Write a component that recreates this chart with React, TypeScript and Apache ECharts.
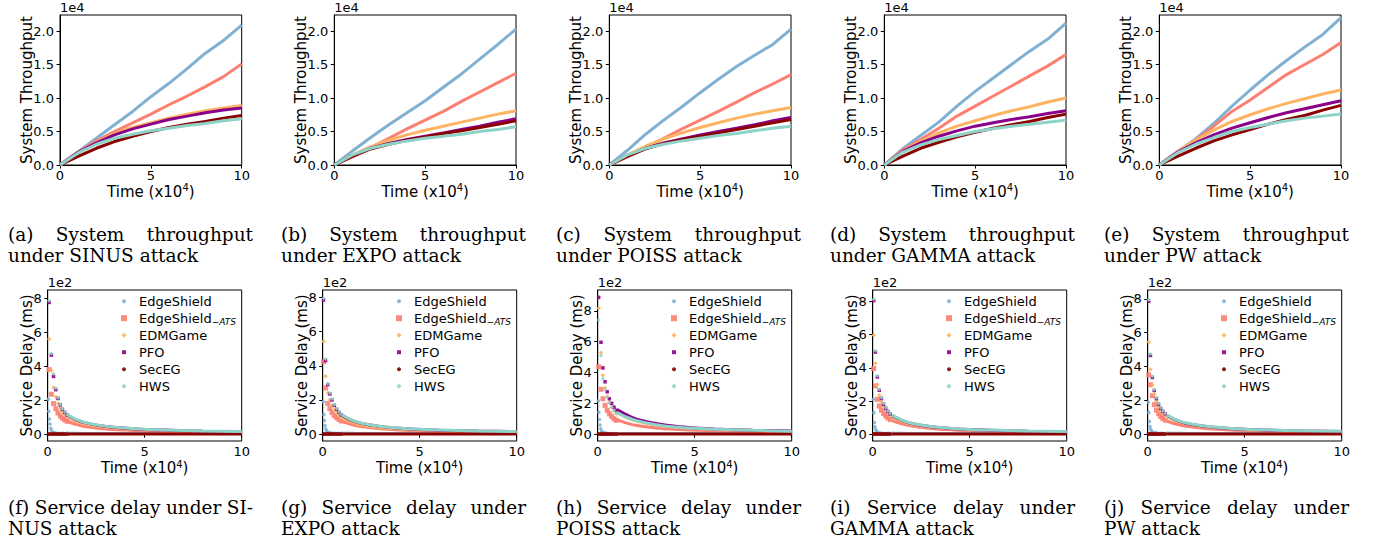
import { useEffect, useRef } from 'react';
import * as echarts from 'echarts';

// ---------- data ----------
const methods = ['EdgeShield', 'EdgeShield-ATS', 'EDMGame', 'PFO', 'SecEG', 'HWS'];
const colors = ['#80b1d3', '#fb8072', '#fdb462', '#8b008b', '#8b0000', '#8dd3c7'];
const symbols = ['circle', 'rect', 'diamond', 'rect', 'circle', 'diamond'];
const symbolSizes = [3.5, 5, 4.5, 3.5, 4, 4];
const legendSizes = [4, 6, 5, 4, 4, 5];
const attacks = ['SINUS', 'EXPO', 'POISS', 'GAMMA', 'PW'];

const timeX = [0, 1, 2, 3, 4, 5, 6, 7, 8, 9, 10];
const timeTicks = [0, 5, 10];
const throughputTicks = [0, 0.5, 1, 1.5, 2];
const delayTicks = [0, 2, 4, 6, 8];

// throughput (x1e4), order: EdgeShield, ATS, EDMGame, PFO, SecEG, HWS
const thrSINUS = [
  [0, 0.2, 0.4, 0.6, 0.8, 1.02, 1.22, 1.44, 1.67, 1.86, 2.09],
  [0, 0.19, 0.36, 0.5, 0.63, 0.76, 0.9, 1.03, 1.17, 1.32, 1.51],
  [0, 0.19, 0.34, 0.47, 0.56, 0.63, 0.7, 0.76, 0.81, 0.85, 0.89],
  [0, 0.19, 0.33, 0.45, 0.54, 0.61, 0.68, 0.73, 0.78, 0.82, 0.85],
  [0, 0.13, 0.25, 0.35, 0.43, 0.5, 0.56, 0.61, 0.65, 0.7, 0.74],
  [0, 0.18, 0.31, 0.4, 0.46, 0.51, 0.55, 0.59, 0.62, 0.66, 0.69],
];
const thrEXPO = [
  [0, 0.21, 0.41, 0.6, 0.78, 0.96, 1.16, 1.36, 1.58, 1.8, 2.03],
  [0, 0.12, 0.26, 0.4, 0.54, 0.67, 0.8, 0.95, 1.09, 1.23, 1.37],
  [0, 0.15, 0.27, 0.37, 0.45, 0.52, 0.58, 0.64, 0.7, 0.76, 0.81],
  [0, 0.14, 0.25, 0.32, 0.38, 0.43, 0.48, 0.53, 0.58, 0.64, 0.69],
  [0, 0.13, 0.24, 0.31, 0.37, 0.42, 0.47, 0.51, 0.56, 0.61, 0.66],
  [0, 0.15, 0.25, 0.31, 0.36, 0.4, 0.43, 0.46, 0.5, 0.53, 0.57],
];
const thrPOISS = [
  [0, 0.22, 0.46, 0.67, 0.87, 1.08, 1.28, 1.47, 1.64, 1.8, 2.03],
  [0, 0.12, 0.26, 0.4, 0.54, 0.67, 0.8, 0.94, 1.08, 1.21, 1.35],
  [0, 0.15, 0.28, 0.39, 0.48, 0.56, 0.63, 0.7, 0.76, 0.81, 0.86],
  [0, 0.14, 0.25, 0.33, 0.39, 0.45, 0.5, 0.55, 0.6, 0.66, 0.71],
  [0, 0.13, 0.24, 0.32, 0.38, 0.43, 0.48, 0.53, 0.58, 0.63, 0.68],
  [0, 0.15, 0.25, 0.31, 0.36, 0.4, 0.44, 0.47, 0.51, 0.55, 0.58],
];
const thrGAMMA = [
  [0, 0.24, 0.44, 0.64, 0.88, 1.1, 1.3, 1.5, 1.7, 1.88, 2.12],
  [0, 0.22, 0.38, 0.55, 0.73, 0.88, 1.03, 1.18, 1.33, 1.48, 1.65],
  [0, 0.2, 0.35, 0.48, 0.58, 0.66, 0.74, 0.81, 0.87, 0.94, 1.0],
  [0, 0.2, 0.33, 0.43, 0.51, 0.58, 0.63, 0.68, 0.72, 0.77, 0.81],
  [0, 0.13, 0.25, 0.34, 0.42, 0.49, 0.55, 0.6, 0.65, 0.71, 0.76],
  [0, 0.19, 0.3, 0.38, 0.44, 0.5, 0.54, 0.58, 0.61, 0.64, 0.67],
];
const thrPW = [
  [0, 0.2, 0.39, 0.62, 0.88, 1.12, 1.35, 1.56, 1.76, 1.95, 2.2],
  [0, 0.2, 0.37, 0.58, 0.8, 0.97, 1.16, 1.35, 1.5, 1.65, 1.83],
  [0, 0.2, 0.37, 0.52, 0.65, 0.75, 0.84, 0.92, 0.99, 1.06, 1.12],
  [0, 0.19, 0.33, 0.45, 0.55, 0.63, 0.71, 0.78, 0.84, 0.9, 0.96],
  [0, 0.13, 0.25, 0.36, 0.45, 0.53, 0.61, 0.68, 0.74, 0.82, 0.89],
  [0, 0.18, 0.31, 0.41, 0.5, 0.56, 0.61, 0.66, 0.7, 0.73, 0.76],
];
const thrAll = [thrSINUS, thrEXPO, thrPOISS, thrGAMMA, thrPW];

// service delay (x1e2 ms)
const blueHeadX = [0.03, 0.06, 0.09, 0.12, 0.16, 0.2, 0.25, 0.32, 0.4, 0.5, 0.65, 0.8, 1.0];
const tailX = [1.0, 1.5, 2, 3, 4, 5, 6, 8, 10];
const headXSINUS = [0.07, 0.19, 0.3, 0.42, 0.53, 0.65, 0.76, 0.88, 1.0];
const headXEXPO = [0.04, 0.15, 0.26, 0.37, 0.48, 0.6, 0.72, 0.84, 0.96];
const headXPOISS = [0.05, 0.17, 0.27, 0.38, 0.49, 0.6, 0.72, 0.84, 0.96];
const headXGAMMA = [0.05, 0.14, 0.24, 0.34, 0.45, 0.56, 0.67, 0.78, 0.9];
const headXPW = [0.05, 0.14, 0.24, 0.34, 0.45, 0.56, 0.67, 0.78, 0.9];
const headXAll = [headXSINUS, headXEXPO, headXPOISS, headXGAMMA, headXPW];

const headSINUS = [
  [2.05, 1.35, 0.9, 0.6, 0.35, 0.2, 0.13, 0.09, 0.07, 0.06, 0.05, 0.05, 0.05],
  [3.8, 2.35, 1.8, 1.5, 1.25, 1.07, 0.94, 0.84, 0.76],
  [5.6, 3.75, 2.75, 2.2, 1.8, 1.52, 1.32, 1.16, 1.03],
  [7.75, 4.65, 3.4, 2.62, 2.1, 1.72, 1.46, 1.28, 1.13],
  [0.01, 0.01, 0.01, 0.01, 0.01, 0.01, 0.01, 0.01, 0.01],
  [7.85, 4.75, 3.55, 2.7, 2.15, 1.75, 1.48, 1.3, 1.15],
];
const tailSINUS = [
  [0.05, 0.05, 0.04, 0.04, 0.04, 0.04, 0.04, 0.04, 0.04],
  [0.76, 0.56, 0.44, 0.31, 0.24, 0.19, 0.16, 0.13, 0.11],
  [1.03, 0.76, 0.59, 0.41, 0.32, 0.26, 0.22, 0.17, 0.14],
  [1.13, 0.83, 0.65, 0.45, 0.35, 0.28, 0.24, 0.18, 0.15],
  [0.01, 0.01, 0.01, 0.01, 0.01, 0.01, 0.01, 0.01, 0.01],
  [1.15, 0.85, 0.66, 0.46, 0.36, 0.29, 0.25, 0.19, 0.16],
];
const headEXPO = [
  [1.9, 1.15, 0.8, 0.5, 0.3, 0.18, 0.12, 0.09, 0.07, 0.06, 0.05, 0.05, 0.05],
  [4.23, 2.7, 1.8, 1.5, 1.26, 1.09, 0.96, 0.86, 0.77],
  [5.42, 3.38, 2.4, 2.0, 1.68, 1.42, 1.24, 1.09, 0.98],
  [7.85, 4.3, 2.9, 2.35, 2.0, 1.68, 1.45, 1.27, 1.13],
  [0.01, 0.01, 0.01, 0.01, 0.01, 0.01, 0.01, 0.01, 0.01],
  [7.95, 4.4, 2.95, 2.4, 2.05, 1.72, 1.48, 1.3, 1.16],
];
const tailEXPO = [
  [0.05, 0.05, 0.04, 0.04, 0.04, 0.04, 0.04, 0.04, 0.04],
  [0.75, 0.56, 0.44, 0.31, 0.24, 0.19, 0.16, 0.13, 0.11],
  [0.95, 0.7, 0.54, 0.38, 0.3, 0.24, 0.2, 0.16, 0.13],
  [1.1, 0.8, 0.62, 0.44, 0.34, 0.27, 0.23, 0.18, 0.15],
  [0.01, 0.01, 0.01, 0.01, 0.01, 0.01, 0.01, 0.01, 0.01],
  [1.12, 0.82, 0.64, 0.45, 0.35, 0.28, 0.24, 0.18, 0.15],
];
const headPOISS = [
  [2.17, 1.43, 0.95, 0.6, 0.35, 0.2, 0.13, 0.09, 0.07, 0.06, 0.05, 0.05, 0.05],
  [4.37, 2.91, 2.3, 1.87, 1.55, 1.32, 1.15, 1.0, 0.9],
  [8.17, 5.28, 3.83, 3.0, 2.45, 2.05, 1.75, 1.52, 1.35],
  [8.87, 5.96, 4.3, 3.4, 2.75, 2.3, 2.0, 1.75, 1.55],
  [0.01, 0.01, 0.01, 0.01, 0.01, 0.01, 0.01, 0.01, 0.01],
  [7.4, 5.09, 3.6, 2.9, 2.4, 2.02, 1.75, 1.53, 1.36],
];
const tailPOISS = [
  [0.05, 0.05, 0.04, 0.04, 0.04, 0.04, 0.04, 0.04, 0.04],
  [0.93, 0.72, 0.57, 0.41, 0.32, 0.26, 0.22, 0.17, 0.14],
  [1.4, 1.08, 0.86, 0.6, 0.46, 0.37, 0.31, 0.24, 0.19],
  [1.6, 1.25, 0.98, 0.7, 0.52, 0.41, 0.34, 0.26, 0.21],
  [0.01, 0.01, 0.01, 0.01, 0.01, 0.01, 0.01, 0.01, 0.01],
  [1.41, 1.1, 0.88, 0.62, 0.47, 0.38, 0.32, 0.25, 0.2],
];
const headGAMMA = [
  [2.1, 1.3, 0.7, 0.45, 0.28, 0.17, 0.11, 0.08, 0.07, 0.06, 0.05, 0.05, 0.05],
  [3.96, 2.91, 2.1, 1.7, 1.45, 1.25, 1.1, 0.98, 0.88],
  [5.97, 4.28, 3.0, 2.35, 1.95, 1.65, 1.42, 1.25, 1.12],
  [8.05, 4.95, 3.45, 2.65, 2.15, 1.8, 1.56, 1.37, 1.22],
  [0.01, 0.01, 0.01, 0.01, 0.01, 0.01, 0.01, 0.01, 0.01],
  [8.14, 5.03, 3.52, 2.71, 2.2, 1.85, 1.6, 1.4, 1.25],
];
const tailGAMMA = [
  [0.05, 0.05, 0.04, 0.04, 0.04, 0.04, 0.04, 0.04, 0.04],
  [0.82, 0.62, 0.49, 0.35, 0.27, 0.22, 0.19, 0.15, 0.12],
  [1.03, 0.77, 0.6, 0.42, 0.33, 0.27, 0.23, 0.18, 0.15],
  [1.12, 0.83, 0.64, 0.45, 0.35, 0.28, 0.24, 0.18, 0.15],
  [0.01, 0.01, 0.01, 0.01, 0.01, 0.01, 0.01, 0.01, 0.01],
  [1.15, 0.85, 0.66, 0.46, 0.36, 0.29, 0.25, 0.19, 0.16],
];
const headPW = [
  [1.88, 1.28, 0.75, 0.45, 0.28, 0.17, 0.11, 0.08, 0.07, 0.06, 0.05, 0.05, 0.05],
  [3.5, 2.92, 2.27, 1.74, 1.42, 1.2, 1.04, 0.92, 0.82],
  [5.45, 3.82, 2.92, 2.35, 1.95, 1.65, 1.43, 1.26, 1.12],
  [7.85, 4.65, 3.35, 2.58, 2.1, 1.76, 1.52, 1.34, 1.2],
  [0.01, 0.01, 0.01, 0.01, 0.01, 0.01, 0.01, 0.01, 0.01],
  [7.94, 4.74, 3.42, 2.63, 2.15, 1.8, 1.56, 1.37, 1.22],
];
const tailPW = [
  [0.05, 0.05, 0.04, 0.04, 0.04, 0.04, 0.04, 0.04, 0.04],
  [0.76, 0.58, 0.46, 0.33, 0.26, 0.21, 0.18, 0.14, 0.12],
  [1.03, 0.77, 0.6, 0.42, 0.33, 0.27, 0.23, 0.18, 0.15],
  [1.1, 0.81, 0.63, 0.45, 0.35, 0.28, 0.24, 0.18, 0.15],
  [0.01, 0.01, 0.01, 0.01, 0.01, 0.01, 0.01, 0.01, 0.01],
  [1.12, 0.83, 0.65, 0.46, 0.36, 0.29, 0.25, 0.19, 0.16],
];
const headAll = [headSINUS, headEXPO, headPOISS, headGAMMA, headPW];
const tailAll = [tailSINUS, tailEXPO, tailPOISS, tailGAMMA, tailPW];
const delayYMin = [-0.4, -0.4, -0.44, -0.41, -0.41];
const delayYMax = [8.48, 8.43, 9.35, 8.69, 8.52];

const captions = [
  ['(a) System throughput', 'under SINUS attack'],
  ['(b) System throughput', 'under EXPO attack'],
  ['(c) System throughput', 'under POISS attack'],
  ['(d) System throughput', 'under GAMMA attack'],
  ['(e) System throughput', 'under PW attack'],
  ['(f) Service delay under SI-', 'NUS attack'],
  ['(g) Service delay under', 'EXPO attack'],
  ['(h) Service delay under', 'POISS attack'],
  ['(i) Service delay under', 'GAMMA attack'],
  ['(j) Service delay under', 'PW attack'],
];

// ---------- layout ----------
const topLeft = [60, 334.3, 609.3, 884.3, 1159.3];
const topWidth = 181.7;
const topTop = 15;
const topHeight = 150;
const botLeft = [47.7, 322.7, 597.7, 872.7, 1147.7];
const botWidth = 194;
const botTop = 290;
const botHeight = 151;
const capLeft = [8, 281, 556, 830, 1104];
const capWidth = 245;
const capY = [[234, 255], [507, 528]];

const SANS = '"DejaVu Sans", sans-serif';
const SERIF_NAME = 'DejaVu Serif';
const SERIF = `"${SERIF_NAME}", serif`;
const CAP_FONT_SIZE = 18.5;
const CAP_LINE_HEIGHT = 20;

function measure(text: string, font: string): number {
  const c = document.createElement('canvas').getContext('2d');
  if (!c) return text.length * 9;
  c.font = font;
  return c.measureText(text).width;
}

function axisCommon(gridIndex: number) {
  return {
    gridIndex,
    axisLine: { show: true, lineStyle: { color: '#000', width: 1 } },
    axisTick: { show: true, length: 3.5, lineStyle: { color: '#000' } },
    splitLine: { show: false },
  };
}

function buildOption() {
  const grid: any[] = [];
  const xAxis: any[] = [];
  const yAxis: any[] = [];
  const series: any[] = [];
  const legend: any[] = [];
  const graphic: any[] = [];

  // top row
  topLeft.forEach((left, p) => {
    grid.push({ left, top: topTop, width: topWidth, height: topHeight, show: true, borderColor: '#000', borderWidth: 1 });
    xAxis.push({
      type: 'value', ...axisCommon(p), min: 0, max: 10, interval: 5,
      axisLabel: { fontSize: 13, fontFamily: SANS, color: '#000', margin: 4, customValues: timeTicks },
    });
    yAxis.push({
      type: 'value', ...axisCommon(p), min: 0, max: 2.24,
      axisTick: { show: true, length: 3.5, lineStyle: { color: '#000' }, customValues: throughputTicks },
      axisLabel: { fontSize: 13, fontFamily: SANS, color: '#000', margin: 6, customValues: throughputTicks, formatter: (v: number) => v.toFixed(1) },
    });
    thrAll[p].forEach((vals, m) => {
      series.push({
        type: 'line', name: `${attacks[p]}-${methods[m]}`, xAxisIndex: p, yAxisIndex: p,
        data: timeX.map((x, i) => [x, vals[i]]), showSymbol: false, smooth: false,
        lineStyle: { color: colors[m], width: 3 }, itemStyle: { color: colors[m] }, silent: true,
      });
    });
    graphic.push({ type: 'text', x: left, y: topTop - 1, style: { text: '1e4', fontSize: 13, fontFamily: SANS, fill: '#000', align: 'left', verticalAlign: 'bottom' } });
    graphic.push({ type: 'text', x: left - 33.3, y: topTop + topHeight / 2, rotation: Math.PI / 2, style: { text: 'System Throughput', fontSize: 15, fontFamily: SANS, fill: '#000', align: 'center', verticalAlign: 'middle' } });
    graphic.push({
      type: 'text', x: left + topWidth / 2, y: topTop + topHeight + 26.5,
      style: { text: 'Time (x10{sup|4})', fontSize: 15, fontFamily: SANS, lineHeight: 18, fill: '#000', align: 'center', verticalAlign: 'middle', rich: { sup: { fontSize: 10, fontFamily: SANS, lineHeight: 10, verticalAlign: 'top', fill: '#000' } } },
    });
  });

  // bottom row
  botLeft.forEach((left, p) => {
    const gi = p + 5;
    grid.push({ left, top: botTop, width: botWidth, height: botHeight, show: true, borderColor: '#000', borderWidth: 1 });
    xAxis.push({
      type: 'value', ...axisCommon(gi), min: 0, max: 10, interval: 5,
      axisLabel: { fontSize: 13, fontFamily: SANS, color: '#000', margin: 4, customValues: timeTicks },
    });
    yAxis.push({
      type: 'value', ...axisCommon(gi), min: delayYMin[p], max: delayYMax[p],
      axisTick: { show: true, length: 3.5, lineStyle: { color: '#000' }, customValues: delayTicks },
      axisLabel: { fontSize: 13, fontFamily: SANS, color: '#000', margin: 6, customValues: delayTicks, formatter: (v: number) => String(Math.round(v)) },
    });
    methods.forEach((name, m) => {
      const hx = m === 0 ? blueHeadX : headXAll[p];
      const hv = headAll[p][m];
      series.push({
        type: 'scatter', name, xAxisIndex: gi, yAxisIndex: gi,
        data: hx.map((x, i) => [x, hv[i]]), symbol: symbols[m], symbolSize: symbolSizes[m],
        itemStyle: { color: colors[m], opacity: 0.9 }, silent: true,
      });
      const tv = tailAll[p][m];
      series.push({
        type: 'line', name: `${name}-tail-${p}`, xAxisIndex: gi, yAxisIndex: gi,
        data: tailX.map((x, i) => [x, tv[i]]), showSymbol: false, smooth: 0.3,
        lineStyle: { color: colors[m], width: 3 }, itemStyle: { color: colors[m] }, silent: true,
      });
    });
    methods.forEach((name, m) => {
      const sz = legendSizes[m];
      legend.push({
        orient: 'vertical', left: left + 76.3 - sz / 2, top: botTop + 3.2 + m * 17, padding: 0, itemGap: 0,
        itemWidth: sz, itemHeight: sz, selectedMode: false,
        data: [{ name, icon: symbols[m] }],
        formatter: (n: string) => (n === 'EdgeShield-ATS' ? 'EdgeShield{sub|\u2212ATS}' : n),
        textStyle: {
          fontSize: 13, fontFamily: SANS, color: '#000', lineHeight: 16, padding: [0, 0, 0, 10 - sz / 2],
          rich: { sub: { fontSize: 9, fontStyle: 'italic', fontFamily: SANS, color: '#000', lineHeight: 9, verticalAlign: 'bottom' } },
        },
      });
    });
    graphic.push({ type: 'text', x: left, y: botTop - 1, style: { text: '1e2', fontSize: 13, fontFamily: SANS, fill: '#000', align: 'left', verticalAlign: 'bottom' } });
    graphic.push({ type: 'text', x: left - 21, y: botTop + botHeight / 2, rotation: Math.PI / 2, style: { text: 'Service Delay (ms)', fontSize: 15, fontFamily: SANS, fill: '#000', align: 'center', verticalAlign: 'middle' } });
    graphic.push({
      type: 'text', x: left + botWidth / 2, y: botTop + botHeight + 27,
      style: { text: 'Time (x10{sup|4})', fontSize: 15, fontFamily: SANS, lineHeight: 18, fill: '#000', align: 'center', verticalAlign: 'middle', rich: { sup: { fontSize: 10, fontFamily: SANS, lineHeight: 10, verticalAlign: 'top', fill: '#000' } } },
    });
  });

  // captions (first line justified to the column width)
  const capFont = `${CAP_FONT_SIZE}px "${SERIF_NAME}"`;
  const capStyle = { fontSize: CAP_FONT_SIZE, fontFamily: SERIF, lineHeight: CAP_LINE_HEIGHT, fill: '#000', align: 'left', verticalAlign: 'middle' };
  captions.forEach((lines, idx) => {
    const row = idx < 5 ? 0 : 1;
    const col = idx % 5;
    const x0 = capLeft[col];
    const words = lines[0].split(' ');
    const widths = words.map((w) => measure(w, capFont));
    const total = widths.reduce((a, b) => a + b, 0);
    const gap = words.length > 1 ? (capWidth - total) / (words.length - 1) : 0;
    let cx = x0;
    words.forEach((w, i) => {
      graphic.push({ type: 'text', x: cx, y: capY[row][0], style: { ...capStyle, text: w } });
      cx += widths[i] + gap;
    });
    graphic.push({ type: 'text', x: x0, y: capY[row][1], style: { ...capStyle, text: lines[1] } });
  });

  return { animation: false, backgroundColor: '#fff', grid, xAxis, yAxis, series, legend, graphic };
}

export default function App() {
  const ref = useRef<HTMLDivElement>(null);
  useEffect(() => {
    if (!ref.current) return;
    const chart = echarts.init(ref.current, null, { renderer: 'svg' });
    chart.setOption(buildOption() as any);
    return () => chart.dispose();
  }, []);
  return <div ref={ref} style={{ position: 'absolute', left: 0, top: 0, width: 1377, height: 544, background: '#fff' }} />;
}
